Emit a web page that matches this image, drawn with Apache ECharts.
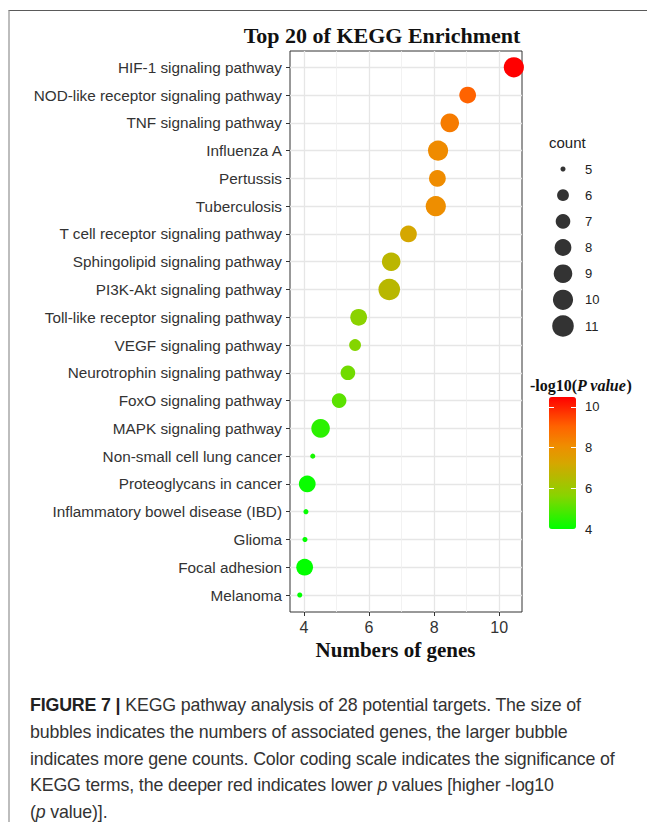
<!DOCTYPE html>
<html>
<head>
<meta charset="utf-8">
<title>Top 20 of KEGG Enrichment</title>
<script src="https://cdn.jsdelivr.net/npm/echarts@6/dist/echarts.min.js"></script>
<style>
  html, body { margin: 0; padding: 0; background: #fff; }
  #frame { position: absolute; left: 8px; top: 10px; width: 639px; height: 812px;
           border-top: 1.5px solid #5a5a5a; border-left: 2px solid #bdbdbd; box-sizing: border-box; }
  #chart { position: absolute; left: 0; top: 0; width: 647px; height: 822px; }
  #caption { position: absolute; left: 30px; top: 692px; font: 17.8px "Liberation Sans", Arial, sans-serif;
             line-height: 26.8px; color: #333; white-space: nowrap; letter-spacing: -0.15px; }
  #caption b { color: #222; }
</style>
</head>
<body>
<div id="frame"></div>
<div id="chart"></div>
<div id="caption"><b>FIGURE 7 |</b> KEGG pathway analysis of 28 potential targets. The size of<br>bubbles indicates the numbers of associated genes, the larger bubble<br>indicates more gene counts. Color coding scale indicates the significance of<br>KEGG terms, the deeper red indicates lower <i>p</i> values [higher -log10<br>(<i>p</i> value)].</div>
<script>
// Enriched KEGG pathways, top to bottom
const pathways = [
  'HIF-1 signaling pathway',
  'NOD-like receptor signaling pathway',
  'TNF signaling pathway',
  'Influenza A',
  'Pertussis',
  'Tuberculosis',
  'T cell receptor signaling pathway',
  'Sphingolipid signaling pathway',
  'PI3K-Akt signaling pathway',
  'Toll-like receptor signaling pathway',
  'VEGF signaling pathway',
  'Neurotrophin signaling pathway',
  'FoxO signaling pathway',
  'MAPK signaling pathway',
  'Non-small cell lung cancer',
  'Proteoglycans in cancer',
  'Inflammatory bowel disease (IBD)',
  'Glioma',
  'Focal adhesion',
  'Melanoma'
];
// horizontal position of each bubble
const geneNumbers = [10.45, 9.03, 8.48, 8.12, 8.10, 8.05, 7.21, 6.68, 6.62, 5.68,
                     5.57, 5.35, 5.08, 4.51, 4.27, 4.10, 4.06, 4.03, 4.02, 3.87];
// -log10(P value), drives the colour
const logP = [10.48, 9.03, 8.48, 8.12, 8.10, 8.05, 7.21, 6.68, 6.62, 5.68,
              5.57, 5.35, 5.08, 4.51, 4.27, 4.10, 4.06, 4.03, 4.02, 4.00];
// gene count, drives the bubble area
const counts = [10, 8, 9, 10, 8, 10, 8, 9, 11, 8,
                6, 7, 7, 9, 5, 8, 5, 5, 8, 5];

const sizeBreaks = [5, 6, 7, 8, 9, 10, 11];
const xTicks = [4, 6, 8, 10];
const colorTicks = [4, 6, 8, 10];

// area scale: size range 1..6 over the count extent, converted to pixels
const cMin = Math.min(...counts), cMax = Math.max(...counts);
function bubbleDiameter(c) {
  const t = Math.max(0, Math.min(1, (c - cMin) / (cMax - cMin)));
  return 3.3 * (1 + 5 * Math.sqrt(t)) + 1.8;
}

// green -> yellow-olive -> orange -> red colour ramp (evenly spaced stops)
const rampKeys = [
  [0.00, [0, 255, 0]],
  [0.25, [136, 212, 0]],
  [0.50, [214, 166, 0]],
  [0.625, [238, 142, 0]],
  [0.775, [255, 100, 0]],
  [1.00, [255, 0, 0]]
];
function rampAt(t) {
  for (let i = 1; i < rampKeys.length; i++) {
    const [t1, c1] = rampKeys[i], [t0, c0] = rampKeys[i - 1];
    if (t <= t1) {
      const u = (t - t0) / (t1 - t0);
      return 'rgb(' + c0.map((v, k) => Math.round(v + (c1[k] - v) * u)).join(',') + ')';
    }
  }
  return 'rgb(255,0,0)';
}
const gradient = [];
for (let i = 0; i <= 40; i++) gradient.push(rampAt(i / 40));

const pMin = Math.min(...logP), pMax = Math.max(...logP);
const axisText = '#333';
const gridMajor = { color: '#e6e6e6', width: 1.3 };
const gridMinor = { color: '#efefef', width: 0.8 };

const chart = echarts.init(document.getElementById('chart'), null, { renderer: 'svg' });
chart.setOption({
  animation: false,
  textStyle: { fontFamily: '"Liberation Sans", Arial, sans-serif' },
  grid: [
    { left: 290, right: 125, top: 67.3, bottom: 227 },
    { left: 290, right: 125, top: 51, bottom: 210, show: true, borderColor: '#333', borderWidth: 1, backgroundColor: 'transparent' },
    { left: 553, width: 20, top: 169, height: 157 },
    { left: 549, width: 27, top: 397, height: 132 }
  ],
  xAxis: [
    { gridIndex: 0, type: 'value', min: 3.57, max: 10.7, show: false },
    {
      gridIndex: 1, type: 'value', min: 3.57, max: 10.7, splitNumber: 4,
      axisLine: { show: false },
      axisTick: { show: true, length: 4, lineStyle: { color: '#333' }, customValues: xTicks },
      axisLabel: { color: axisText, fontSize: 16, margin: 7, customValues: xTicks },
      splitLine: { show: true, lineStyle: gridMajor },
      minorTick: { show: false, splitNumber: 2 },
      minorSplitLine: { show: true, lineStyle: gridMinor },
      name: 'Numbers of genes', nameLocation: 'middle', nameGap: 22,
      nameTextStyle: { fontFamily: '"Liberation Serif", "Times New Roman", serif', fontWeight: 'bold', fontSize: 21, color: '#111',
                       padding: [0, 21, 0, 0] }
    },
    { gridIndex: 2, type: 'value', min: -1, max: 1, show: false },
    { gridIndex: 3, type: 'value', min: 0, max: 1, show: false }
  ],
  yAxis: [
    {
      gridIndex: 0, type: 'category', data: pathways, inverse: true, boundaryGap: false,
      axisLine: { show: false },
      axisTick: { show: true, length: 4, lineStyle: { color: '#333' } },
      axisLabel: { color: axisText, fontSize: 15.3, margin: 8 },
      splitLine: { show: true, lineStyle: gridMajor }
    },
    { gridIndex: 1, type: 'value', show: false },
    {
      gridIndex: 2, type: 'category', data: sizeBreaks.map(String), inverse: true, boundaryGap: false,
      position: 'right', axisLine: { show: false }, axisTick: { show: false },
      axisLabel: { color: '#222', fontSize: 13, margin: 12 }, splitLine: { show: false }
    },
    {
      gridIndex: 3, type: 'value', min: pMin, max: pMax, position: 'left', z: 10,
      axisLine: { show: false },
      axisTick: { show: true, inside: true, length: 5, lineStyle: { color: '#fff', width: 1 }, customValues: colorTicks },
      axisLabel: { show: false }, splitLine: { show: false }
    },
    {
      gridIndex: 3, type: 'value', min: pMin, max: pMax, position: 'right', z: 10,
      axisLine: { show: false },
      axisTick: { show: true, inside: true, length: 5, lineStyle: { color: '#fff', width: 1 }, customValues: colorTicks },
      axisLabel: { color: '#222', fontSize: 13, margin: 9, customValues: colorTicks },
      splitLine: { show: false }
    }
  ],
  visualMap: {
    type: 'continuous', seriesIndex: 0, dimension: 2,
    min: pMin, max: pMax, calculable: false, realtime: false,
    itemWidth: 27, itemHeight: 132, left: 544, top: 392, padding: 5,
    inRange: { color: gradient }
  },
  graphic: [
    {
      type: 'text', x: 382, y: 35,
      style: { text: 'Top 20 of KEGG Enrichment', align: 'center', verticalAlign: 'middle',
               font: 'bold 22px "Liberation Serif", "Times New Roman", serif', fill: '#111' }
    },
    {
      type: 'text', x: 549, y: 142,
      style: { text: 'count', align: 'left', verticalAlign: 'middle',
               font: '15px "Liberation Sans", Arial, sans-serif', fill: '#222' }
    },
    {
      type: 'text', x: 530, y: 385,
      style: {
        text: '{a|-log10(}{b|P value}{a|)}', align: 'left', verticalAlign: 'middle',
        rich: {
          a: { font: 'bold 16px "Liberation Serif", "Times New Roman", serif', fill: '#111' },
          b: { font: 'italic bold 16px "Liberation Serif", "Times New Roman", serif', fill: '#111' }
        }
      }
    }
  ],
  series: [
    {
      type: 'scatter', xAxisIndex: 0, yAxisIndex: 0, clip: false, z: 5,
      data: pathways.map((p, i) => [geneNumbers[i], p, logP[i], counts[i]]),
      symbolSize: d => bubbleDiameter(d[3]),
      itemStyle: { opacity: 1 }
    },
    {
      type: 'scatter', xAxisIndex: 2, yAxisIndex: 2, silent: true,
      data: sizeBreaks.map(c => [0, String(c), c]),
      symbolSize: d => bubbleDiameter(d[2]),
      itemStyle: { color: '#000' }
    }
  ]
});
</script>
</body>
</html>
